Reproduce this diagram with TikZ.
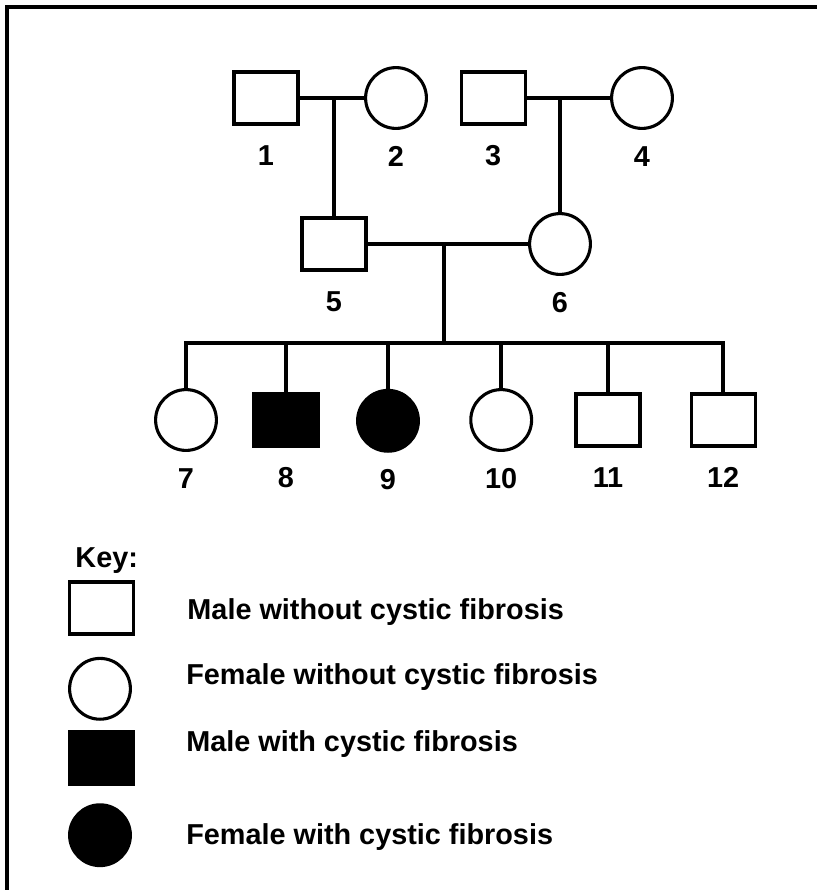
\documentclass[tikz,border=0pt]{standalone}
\usepackage{fontspec}
\setmainfont{Liberation Sans}

\begin{document}
\begin{tikzpicture}[
    male/.style={rectangle, draw, line width=2.2pt, minimum width=1.6cm, minimum height=1.3cm, inner sep=0pt},
    female/.style={circle, draw, line width=2.2pt, minimum size=1.52cm, inner sep=0pt},
    affected/.style={fill=black},
    link/.style={line width=2.5pt, line cap=rect},
    num/.style={label={[label distance=0.5cm, inner sep=0pt]below:#1}},
    fnum/.style={label={[label distance=0.4cm, inner sep=0pt]below:#1}},
    keytext/.style={anchor=base west, inner sep=0pt},
    font=\fontsize{20.5pt}{24pt}\selectfont\bfseries
]
    \useasboundingbox (0.00, 0.00) rectangle (20.40, -22.25);
    \draw[line width=2.85pt] (0.175, -0.175) rectangle (21.00, -23.00);

    % grandparents
    \node[male, num=1] (1) at (6.65, -2.45) {};
    \node[female, fnum=2] (2) at (9.90, -2.45) {};
    \node[male, num=3] (3) at (12.33, -2.45) {};
    \node[female, fnum=4] (4) at (16.05, -2.45) {};

    % parents
    \node[male, num=5] (5) at (8.35, -6.10) {};
    \node[female, fnum=6] (6) at (14.00, -6.10) {};

    % children
    \node[female, fnum=7] (7) at (4.65, -10.50) {};
    \node[male, affected, num=8] (8) at (7.15, -10.50) {};
    \node[female, affected, fnum=9] (9) at (9.70, -10.52) {};
    \node[female, fnum=10] (10) at (12.53, -10.50) {};
    \node[male, num=11] (11) at (15.20, -10.50) {};
    \node[male, num=12] (12) at (18.08, -10.50) {};
    \coordinate (sib) at (11.10, -8.58);

    \draw[link] (1) -- (2);
    \draw[link] (3) -- (4);
    \draw[link] (5.north |- 1) -- (5.north);
    \draw[link] (6.north |- 3) -- (6.north);
    \draw[link] (5) -- (6);
    \draw[link] (sib |- 5) -- (sib);
    \draw[link] (7.north |- sib) -- (12.north |- sib);
    \foreach \c in {7,...,12}
        \draw[link] (\c.north |- sib) -- (\c.north);

    % key
    \node[keytext] (key) at (1.88, -14.18) {Key:};
    \node[male] (k1) at (2.53, -15.20) {};
    \node[female] (k2) at (2.50, -17.22) {};
    \node[male, affected] (k3) at (2.53, -18.95) {};
    \node[female, affected] (k4) at (2.50, -20.88) {};
    \node[keytext] (t1) at (4.68, -15.48) {Male without cystic fibrosis};
    \node[keytext] (t2) at (4.65, -17.12) {Female without cystic fibrosis};
    \node[keytext] (t3) at (4.65, -18.78) {Male with cystic fibrosis};
    \node[keytext] (t4) at (4.65, -21.10) {Female with cystic fibrosis};
\end{tikzpicture}
\end{document}
